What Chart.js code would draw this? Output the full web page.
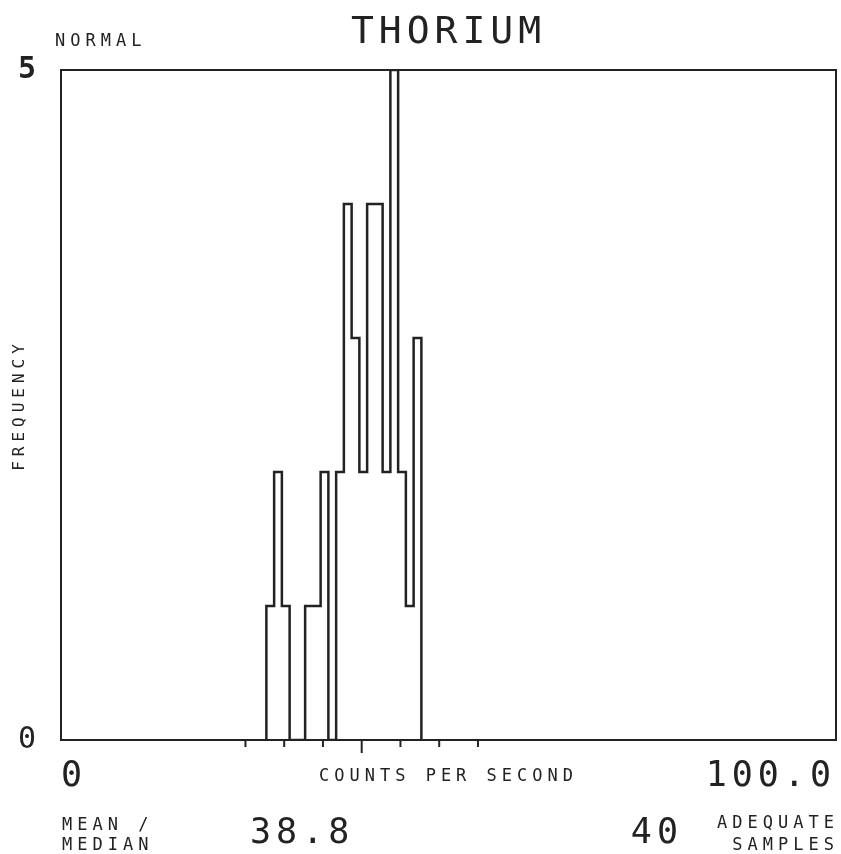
<!DOCTYPE html>
<html>
<head>
<meta charset="utf-8">
<script src="https://cdn.jsdelivr.net/npm/chart.js@4.4.1/dist/chart.umd.min.js"></script>
<style>
  html, body { margin: 0; padding: 0; background: #fff; }
  #wrap { width: 841px; height: 854px; }
</style>
</head>
<body>
<div id="wrap"><canvas id="histChart"></canvas></div>
<script>
// histogram bins (counts per second), one unit wide
var binCenters = [27, 28, 29, 30, 31, 32, 33, 34, 35, 36, 37, 38, 39, 40, 41, 42, 43, 44, 45, 46];
var counts     = [1, 2, 1, 0, 0, 1, 1, 2, 0, 2, 4, 3, 2, 4, 4, 2, 5, 2, 1, 3];

var xTickValues = [0, 100];
var xTickLabels = ['0', '100.0'];
var yTickValues = [0, 5];

// mean and the one-sigma marks under the axis
var meanValue = 38.8;
var sdTicks = [23.8, 28.8, 33.8, 43.8, 48.8, 53.8];
var sampleCount = 40;

var ink = '#222';
var mono = '"DejaVu Sans Mono", "Liberation Mono", monospace';

// outline points at the left edge of every bin, closed down to zero at both ends
var stepPoints = [{x: binCenters[0] - 0.5, y: 0}];
for (var i = 0; i < binCenters.length; i++) {
  stepPoints.push({x: binCenters[i] - 0.5, y: counts[i]});
}
stepPoints.push({x: binCenters[binCenters.length - 1] + 0.5, y: 0});

function fixSize(prop, size) {
  return function(scale) {
    scale[prop] = size;
    scale.paddingLeft = 0;
    scale.paddingRight = 0;
  };
}

var plotterText = {
  id: 'plotterText',
  beforeDraw: function(chart) {
    chart.ctx.letterSpacing = '5px';
  },
  afterDraw: function(chart) {
    var ctx = chart.ctx;
    var x = chart.scales.x;
    var bottom = chart.chartArea.bottom;
    ctx.save();
    ctx.strokeStyle = ink;
    ctx.lineWidth = 2;
    sdTicks.forEach(function(v) {
      var px = x.getPixelForValue(v);
      ctx.beginPath();
      ctx.moveTo(px, bottom);
      ctx.lineTo(px, bottom + 7);
      ctx.stroke();
    });
    var mx = x.getPixelForValue(meanValue);
    ctx.beginPath();
    ctx.moveTo(mx, bottom);
    ctx.lineTo(mx, bottom + 13);
    ctx.stroke();

    ctx.fillStyle = ink;
    ctx.textBaseline = 'alphabetic';
    ctx.font = '17px ' + mono;
    ctx.textAlign = 'left';
    ctx.fillText('NORMAL', 55, 46);
    ctx.fillText('MEAN /', 62, 830);
    ctx.fillText('MEDIAN', 62, 850);
    ctx.textAlign = 'right';
    ctx.fillText('ADEQUATE', 839, 828);
    ctx.fillText('SAMPLES', 839, 850);

    ctx.font = '35px ' + mono;
    ctx.textAlign = 'left';
    ctx.fillText(meanValue.toFixed(1), 250, 843);
    ctx.textAlign = 'right';
    ctx.fillText(String(sampleCount), 683, 843);
    ctx.restore();
  }
};

var config = {
  type: 'line',
  data: {
    datasets: [{
      label: 'THORIUM',
      data: stepPoints,
      stepped: true,
      borderColor: ink,
      borderWidth: 2.5,
      pointRadius: 0,
      fill: false
    }]
  },
  options: {
    responsive: true,
    maintainAspectRatio: false,
    animation: false,
    layout: { padding: { left: 0, right: 5, top: 0, bottom: 0 } },
    plugins: {
      legend: { display: false },
      tooltip: { enabled: false }
    },
    scales: {
      x: {
        type: 'linear',
        position: 'bottom',
        min: 0,
        max: 100,
        afterFit: fixSize('height', 114),
        afterBuildTicks: function(scale) {
          scale.ticks = xTickValues.map(function(v) { return {value: v}; });
        },
        ticks: {
          align: 'inner',
          padding: 19,
          color: ink,
          font: { family: mono, size: 35, lineHeight: 1 },
          callback: function(value) { return xTickLabels[xTickValues.indexOf(value)]; }
        },
        grid: { drawOnChartArea: false, drawTicks: false },
        border: { display: true, color: ink, width: 2 },
        title: {
          display: true,
          text: 'COUNTS PER SECOND',
          color: ink,
          font: { family: mono, size: 17, lineHeight: 1.2 },
          padding: { top: 0, bottom: 67 }
        }
      },
      x2: {
        type: 'linear',
        position: 'top',
        min: 0,
        max: 100,
        afterFit: fixSize('height', 70),
        ticks: { display: false },
        grid: { drawOnChartArea: false, drawTicks: false },
        border: { display: true, color: ink, width: 2 },
        title: {
          display: true,
          text: 'THORIUM',
          color: ink,
          font: { family: mono, size: 38, lineHeight: 1 },
          padding: { top: 14, bottom: 0 }
        }
      },
      y: {
        type: 'linear',
        position: 'left',
        min: 0,
        max: 5,
        afterFit: fixSize('width', 61),
        afterBuildTicks: function(scale) {
          scale.ticks = yTickValues.map(function(v) { return {value: v}; });
        },
        ticks: {
          padding: 20,
          color: ink,
          font: function(c) {
            return c.tick && c.tick.value === 5
              ? { family: mono, size: 30, weight: 'bold', lineHeight: 1 }
              : { family: mono, size: 30, lineHeight: 1 };
          }
        },
        grid: { drawOnChartArea: false, drawTicks: false },
        border: { display: true, color: ink, width: 2 },
        title: {
          display: true,
          text: 'FREQUENCY',
          color: ink,
          font: { family: mono, size: 16, lineHeight: 1.2 },
          padding: { top: 10, bottom: 0 }
        }
      },
      y2: {
        type: 'linear',
        position: 'right',
        min: 0,
        max: 5,
        afterFit: fixSize('width', 0),
        ticks: { display: false },
        grid: { drawOnChartArea: false, drawTicks: false },
        border: { display: true, color: ink, width: 2 }
      }
    }
  },
  plugins: [plotterText]
};

var histChart = new Chart(document.getElementById('histChart'), config);
</script>
</body>
</html>
